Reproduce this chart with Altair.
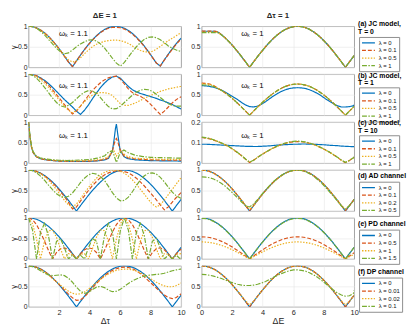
import altair as alt
import pandas as pd

FONT = "Liberation Sans"
COLORS = ["#0072BD", "#D95319", "#EDB120", "#77AC30"]
DASHES = [[1, 0], [4, 2], [1.5, 1.5], [5, 1.5, 1.5, 1.5]]
W, H = 156, 42

# common x grid
G = [0, 0.262, 0.524, 0.785, 1.047, 1.309, 1.571, 1.833, 2.094, 2.356,
     2.618, 2.88, 3.142, 3.403, 3.665, 3.927, 4.189, 4.451, 4.712, 4.974,
     5.236, 5.498, 5.76, 6.021, 6.283, 6.545, 6.807, 7.069, 7.33, 7.592,
     7.854, 8.116, 8.378, 8.639, 8.901, 9.163, 9.425, 9.687, 9.948, 10]
CL_X = [0, 0.1, 0.2, 0.3, 0.5, 0.75, 1, 1.5, 2, 2.5, 3, 3.5, 4, 4.5, 5, 5.25,
        5.5, 5.6, 5.7, 5.76, 5.85, 6.0, 6.25, 6.5, 7, 7.5, 8, 9, 10]

LAB_ABC = ["λ = 0", "λ = 0.1", "λ = 0.5", "λ = 1"]
LAB_D = ["λ = 0", "λ = 0.1", "λ = 0.2", "λ = 0.5"]
LAB_E = ["λ = 0", "λ = 0.5", "λ = 1", "λ = 1.5"]
LAB_F = ["λ = 0", "λ = 0.01", "λ = 0.02", "λ = 0.1"]
ROW_TITLES = ["(a) JC model,\nT = 0", "(b) JC model,\nT = 1", "(c) JC model,\nT = 10",
              "(d) AD channel", "(e) PD channel", "(f) DP channel"]
COL_TITLES = ["ΔE = 1", "Δτ = 1"]
ANN_L = "ωₖ = 1.1"
ANN_R = "ωₖ = 1"

COSH = [1, 0.991, 0.966, 0.924, 0.866, 0.793, 0.707, 0.609, 0.5, 0.383,
        0.259, 0.131, 0, 0.131, 0.259, 0.383, 0.5, 0.609, 0.707, 0.793,
        0.866, 0.924, 0.966, 0.991, 1, 0.991, 0.966, 0.924, 0.866, 0.793,
        0.707, 0.609, 0.5, 0.383, 0.259, 0.131, 0, 0.131, 0.259, 0.284]

# ---- row a
A_L_0 = [1, 0.990, 0.959, 0.908, 0.839, 0.752, 0.649, 0.534, 0.408, 0.271,
         0.130, 0.013, 0.157, 0.297, 0.431, 0.556, 0.670, 0.769, 0.853, 0.919,
         0.966, 0.993, 1.0, 0.985, 0.951, 0.897, 0.825, 0.735, 0.630, 0.514,
         0.383, 0.246, 0.104, 0.03, 0.182, 0.321, 0.454, 0.578, 0.688, 0.709]
A_L_1 = [1, 0.99, 0.958, 0.906, 0.836, 0.749, 0.646, 0.531, 0.405, 0.268,
         0.128, 0.02, 0.155, 0.293, 0.426, 0.55, 0.662, 0.76, 0.842, 0.905,
         0.95, 0.972, 0.975, 0.962, 0.93, 0.877, 0.807, 0.719, 0.617, 0.504,
         0.376, 0.242, 0.104, 0.035, 0.175, 0.31, 0.44, 0.562, 0.67, 0.69]
A_L_2 = [1, 0.99, 0.96, 0.9, 0.83, 0.74, 0.63, 0.52, 0.4, 0.28,
         0.18, 0.13, 0.15, 0.23, 0.33, 0.42, 0.5, 0.56, 0.6, 0.63,
         0.65, 0.66, 0.66, 0.65, 0.62, 0.58, 0.52, 0.46, 0.41, 0.38,
         0.37, 0.39, 0.44, 0.51, 0.58, 0.65, 0.71, 0.77, 0.83, 0.84]
A_L_3 = [1, 0.99, 0.95, 0.88, 0.79, 0.68, 0.57, 0.46, 0.38, 0.33,
         0.35, 0.42, 0.5, 0.57, 0.62, 0.66, 0.67, 0.64, 0.57, 0.47,
         0.35, 0.22, 0.1, 0.03, 0.12, 0.25, 0.38, 0.5, 0.6, 0.68,
         0.73, 0.74, 0.72, 0.67, 0.6, 0.52, 0.46, 0.42, 0.39, 0.38]
A_R_0 = [0.878, 0.878, 0.878, 0.878, 0.866, 0.793, 0.707, 0.609, 0.5, 0.383,
         0.259, 0.131, 0, 0.131, 0.259, 0.383, 0.5, 0.609, 0.707, 0.793,
         0.866, 0.924, 0.966, 0.991, 1, 0.991, 0.966, 0.924, 0.866, 0.793,
         0.707, 0.609, 0.5, 0.383, 0.259, 0.131, 0, 0.131, 0.259, 0.284]
A_R_1 = [0.882, 0.882, 0.882, 0.88, 0.866, 0.793, 0.707, 0.609, 0.5, 0.383,
         0.259, 0.131, 0, 0.131, 0.259, 0.383, 0.5, 0.609, 0.707, 0.793,
         0.866, 0.924, 0.966, 0.991, 1, 0.991, 0.966, 0.924, 0.866, 0.793,
         0.707, 0.609, 0.5, 0.383, 0.259, 0.131, 0, 0.131, 0.259, 0.284]
A_R_2 = [0.86, 0.86, 0.86, 0.86, 0.856, 0.79, 0.706, 0.608, 0.5, 0.383,
         0.259, 0.131, 0, 0.131, 0.259, 0.383, 0.5, 0.609, 0.707, 0.793,
         0.866, 0.924, 0.966, 0.991, 1, 0.991, 0.966, 0.924, 0.866, 0.793,
         0.707, 0.609, 0.5, 0.383, 0.259, 0.131, 0, 0.131, 0.259, 0.284]
A_R_3 = [0.845, 0.845, 0.845, 0.845, 0.845, 0.785, 0.703, 0.607, 0.5, 0.383,
         0.259, 0.131, 0, 0.131, 0.259, 0.383, 0.5, 0.609, 0.707, 0.793,
         0.866, 0.924, 0.966, 0.991, 1, 0.991, 0.966, 0.924, 0.866, 0.793,
         0.707, 0.609, 0.5, 0.383, 0.259, 0.131, 0, 0.131, 0.259, 0.284]

# ---- row b
B_L_0 = [1, 0.99, 0.96, 0.91, 0.85, 0.77, 0.68, 0.58, 0.48, 0.38,
         0.29, 0.2, 0.1, 0.02, 0.12, 0.25, 0.4, 0.54, 0.67, 0.78,
         0.87, 0.93, 0.95, 0.9, 0.8, 0.7, 0.62, 0.57, 0.53, 0.5,
         0.47, 0.44, 0.41, 0.37, 0.34, 0.3, 0.26, 0.21, 0.16, 0.15]
B_L_1 = [1, 0.99, 0.96, 0.9, 0.83, 0.73, 0.62, 0.5, 0.38, 0.26,
         0.14, 0.03, 0.1, 0.22, 0.35, 0.48, 0.6, 0.7, 0.79, 0.86,
         0.91, 0.94, 0.95, 0.88, 0.76, 0.64, 0.55, 0.5, 0.46, 0.4,
         0.32, 0.22, 0.12, 0.02, 0.1, 0.2, 0.3, 0.38, 0.44, 0.45]
B_L_2 = [1, 0.98, 0.94, 0.87, 0.78, 0.68, 0.57, 0.45, 0.33, 0.22,
         0.12, 0.06, 0.12, 0.22, 0.33, 0.42, 0.49, 0.53, 0.55, 0.55,
         0.53, 0.48, 0.38, 0.28, 0.24, 0.24, 0.27, 0.31, 0.36, 0.41,
         0.46, 0.5, 0.54, 0.58, 0.61, 0.64, 0.66, 0.68, 0.7, 0.7]
B_L_3 = [1, 0.97, 0.9, 0.8, 0.68, 0.55, 0.42, 0.31, 0.23, 0.2,
         0.24, 0.31, 0.4, 0.49, 0.56, 0.6, 0.59, 0.53, 0.43, 0.31,
         0.21, 0.15, 0.16, 0.22, 0.31, 0.4, 0.49, 0.56, 0.61, 0.63,
         0.62, 0.58, 0.51, 0.43, 0.35, 0.28, 0.24, 0.22, 0.22, 0.22]
B_R_0 = [0.72, 0.715, 0.7, 0.68, 0.65, 0.61, 0.56, 0.5, 0.44, 0.38,
         0.31, 0.25, 0.21, 0.2, 0.22, 0.27, 0.33, 0.4, 0.47, 0.53,
         0.58, 0.62, 0.65, 0.665, 0.67, 0.665, 0.65, 0.62, 0.58, 0.53,
         0.47, 0.4, 0.34, 0.28, 0.23, 0.2, 0.2, 0.21, 0.23, 0.25]
B_R_1 = [0.78, 0.775, 0.76, 0.72, 0.66, 0.603, 0.537, 0.463, 0.38, 0.291,
         0.197, 0.1, 0, 0.1, 0.197, 0.291, 0.38, 0.463, 0.537, 0.603,
         0.658, 0.702, 0.734, 0.753, 0.76, 0.753, 0.734, 0.702, 0.658, 0.603,
         0.537, 0.463, 0.38, 0.291, 0.197, 0.1, 0, 0.1, 0.197, 0.216]
B_R_2 = [0.77, 0.765, 0.75, 0.715, 0.658, 0.603, 0.537, 0.463, 0.38, 0.291,
         0.197, 0.1, 0, 0.1, 0.197, 0.291, 0.38, 0.463, 0.537, 0.603,
         0.658, 0.702, 0.734, 0.753, 0.76, 0.753, 0.734, 0.702, 0.658, 0.603,
         0.537, 0.463, 0.38, 0.291, 0.197, 0.1, 0, 0.1, 0.197, 0.216]
B_R_3 = [0.74, 0.735, 0.725, 0.7, 0.655, 0.603, 0.537, 0.463, 0.38, 0.291,
         0.197, 0.1, 0, 0.1, 0.197, 0.291, 0.38, 0.463, 0.537, 0.603,
         0.658, 0.702, 0.734, 0.753, 0.76, 0.753, 0.734, 0.702, 0.658, 0.603,
         0.537, 0.463, 0.38, 0.291, 0.197, 0.1, 0, 0.1, 0.197, 0.216]

# ---- row c
C_L_0 = [1, 0.62, 0.38, 0.26, 0.16, 0.11, 0.09, 0.065, 0.05, 0.045, 0.04, 0.04, 0.045, 0.055,
         0.08, 0.12, 0.3, 0.55, 0.85, 0.95, 0.7, 0.32, 0.16, 0.11, 0.08, 0.07, 0.06, 0.055, 0.05]
C_L_1 = [1, 0.62, 0.38, 0.26, 0.16, 0.11, 0.09, 0.065, 0.05, 0.045, 0.045, 0.045, 0.05, 0.06,
         0.09, 0.13, 0.3, 0.45, 0.57, 0.6, 0.52, 0.33, 0.18, 0.13, 0.1, 0.09, 0.08, 0.07, 0.07]
C_L_2 = [1, 0.63, 0.39, 0.27, 0.17, 0.12, 0.1, 0.075, 0.06, 0.055, 0.055, 0.06, 0.065, 0.08,
         0.11, 0.17, 0.3, 0.3, 0.22, 0.17, 0.22, 0.3, 0.22, 0.16, 0.12, 0.11, 0.1, 0.09, 0.09]
C_L_3 = [1, 0.64, 0.4, 0.28, 0.18, 0.13, 0.11, 0.085, 0.07, 0.065, 0.07, 0.08, 0.09, 0.12,
         0.18, 0.27, 0.3, 0.2, 0.08, 0.02, 0.1, 0.25, 0.32, 0.26, 0.19, 0.16, 0.14, 0.13, 0.12]
C_R_0 = [0.092, 0.092, 0.091, 0.09, 0.089, 0.088, 0.087, 0.086, 0.085, 0.084,
         0.083, 0.082, 0.082, 0.081, 0.081, 0.082, 0.083, 0.084, 0.086, 0.088,
         0.089, 0.09, 0.091, 0.092, 0.092, 0.093, 0.093, 0.092, 0.092, 0.091,
         0.09, 0.089, 0.087, 0.086, 0.085, 0.083, 0.082, 0.081, 0.08, 0.08]
C_R_1 = [0.125, 0.122, 0.118, 0.112, 0.105, 0.097, 0.088, 0.077, 0.065, 0.051,
         0.036, 0.019, 0.003, 0.014, 0.028, 0.041, 0.053, 0.064, 0.074, 0.083,
         0.091, 0.097, 0.101, 0.104, 0.105, 0.104, 0.101, 0.097, 0.091, 0.083,
         0.074, 0.064, 0.053, 0.041, 0.028, 0.014, 0.002, 0.013, 0.026, 0.029]
C_R_2 = [0.126, 0.123, 0.119, 0.113, 0.106, 0.098, 0.088, 0.077, 0.065, 0.051,
         0.036, 0.019, 0.004, 0.014, 0.028, 0.041, 0.053, 0.064, 0.074, 0.083,
         0.091, 0.097, 0.102, 0.105, 0.106, 0.105, 0.102, 0.097, 0.091, 0.083,
         0.074, 0.064, 0.053, 0.041, 0.028, 0.014, 0.003, 0.013, 0.026, 0.029]
C_R_3 = [0.127, 0.124, 0.12, 0.114, 0.106, 0.098, 0.089, 0.078, 0.066, 0.052,
         0.037, 0.02, 0.005, 0.014, 0.028, 0.041, 0.053, 0.064, 0.075, 0.084,
         0.092, 0.098, 0.103, 0.106, 0.107, 0.106, 0.103, 0.098, 0.092, 0.084,
         0.075, 0.065, 0.054, 0.042, 0.029, 0.015, 0.004, 0.013, 0.026, 0.03]

# ---- row d
D_L_0 = COSH
D_L_1 = [1, 0.99, 0.965, 0.92, 0.86, 0.78, 0.69, 0.59, 0.47, 0.35,
         0.21, 0.05, 0.1, 0.24, 0.37, 0.5, 0.62, 0.72, 0.81, 0.88,
         0.93, 0.96, 0.98, 0.98, 0.96, 0.93, 0.87, 0.8, 0.71, 0.61,
         0.5, 0.39, 0.27, 0.15, 0.03, 0.1, 0.22, 0.33, 0.43, 0.45]
D_L_2 = [1, 0.99, 0.96, 0.91, 0.84, 0.75, 0.64, 0.52, 0.39, 0.26,
         0.15, 0.1, 0.17, 0.3, 0.44, 0.57, 0.69, 0.8, 0.88, 0.94,
         0.98, 1.0, 0.99, 0.97, 0.92, 0.85, 0.76, 0.65, 0.53, 0.41,
         0.28, 0.17, 0.1, 0.15, 0.27, 0.4, 0.53, 0.66, 0.79, 0.81]
D_L_3 = [1, 0.98, 0.93, 0.85, 0.75, 0.63, 0.52, 0.42, 0.36, 0.33,
         0.36, 0.44, 0.56, 0.69, 0.8, 0.88, 0.92, 0.9, 0.84, 0.75,
         0.6, 0.45, 0.32, 0.25, 0.26, 0.34, 0.47, 0.62, 0.76, 0.86,
         0.92, 0.93, 0.9, 0.82, 0.71, 0.58, 0.46, 0.37, 0.32, 0.31]
D_R_0 = COSH
D_R_1 = [1, 0.991, 0.966, 0.924, 0.866, 0.793, 0.707, 0.609, 0.5, 0.383,
         0.259, 0.131, 0.01, 0.131, 0.259, 0.383, 0.5, 0.609, 0.707, 0.793,
         0.866, 0.924, 0.966, 0.991, 1, 0.991, 0.966, 0.924, 0.866, 0.793,
         0.707, 0.609, 0.5, 0.383, 0.259, 0.131, 0.01, 0.131, 0.259, 0.284]
D_R_2 = [0.995, 0.987, 0.962, 0.92, 0.862, 0.79, 0.705, 0.608, 0.5, 0.385,
         0.263, 0.14, 0.04, 0.13, 0.255, 0.38, 0.497, 0.606, 0.704, 0.79,
         0.862, 0.92, 0.962, 0.987, 0.995, 0.987, 0.962, 0.92, 0.862, 0.79,
         0.705, 0.608, 0.5, 0.385, 0.263, 0.14, 0.04, 0.13, 0.255, 0.28]
D_R_3 = [0.83, 0.825, 0.81, 0.78, 0.73, 0.67, 0.6, 0.51, 0.42, 0.32,
         0.22, 0.13, 0.1, 0.17, 0.28, 0.4, 0.51, 0.62, 0.72, 0.8,
         0.87, 0.93, 0.97, 0.99, 1.0, 0.99, 0.96, 0.91, 0.85, 0.77,
         0.68, 0.58, 0.47, 0.36, 0.24, 0.12, 0.05, 0.13, 0.25, 0.29]

# ---- row e
E_L_0 = COSH
E_L_1 = [1, 0.958, 0.837, 0.653, 0.433, 0.205, 0, 0.158, 0.25, 0.271,
         0.224, 0.126, 0, 0.126, 0.224, 0.271, 0.25, 0.158, 0, 0.205,
         0.433, 0.653, 0.837, 0.958, 1, 0.958, 0.837, 0.653, 0.433, 0.205,
         0, 0.158, 0.25, 0.271, 0.224, 0.126, 0, 0.126, 0.224, 0.238]
E_L_2 = [1, 0.859, 0.483, 0, 0.433, 0.687, 0.707, 0.527, 0.25, 0,
         0.129, 0.113, 0, 0.113, 0.129, 0, 0.25, 0.527, 0.707, 0.687,
         0.433, 0, 0.483, 0.859, 1, 0.859, 0.483, 0, 0.433, 0.687,
         0.707, 0.527, 0.25, 0, 0.129, 0.113, 0, 0.113, 0.129, 0.116]
E_L_3 = [1, 0.701, 0, 0.653, 0.866, 0.561, 0, 0.431, 0.5, 0.271,
         0, 0.092, 0, 0.092, 0, 0.271, 0.5, 0.431, 0, 0.561,
         0.866, 0.653, 0, 0.701, 1, 0.701, 0, 0.653, 0.866, 0.561,
         0, 0.431, 0.5, 0.271, 0, 0.092, 0, 0.092, 0, 0.043]
E_R_0 = COSH
E_R_1 = [0.54, 0.535, 0.522, 0.499, 0.468, 0.428, 0.382, 0.329, 0.27, 0.207,
         0.14, 0.071, 0, 0.071, 0.14, 0.207, 0.27, 0.329, 0.382, 0.428,
         0.468, 0.499, 0.522, 0.535, 0.54, 0.535, 0.522, 0.499, 0.468, 0.428,
         0.382, 0.329, 0.27, 0.207, 0.14, 0.071, 0, 0.071, 0.14, 0.153]
E_R_2 = [0.416, 0.412, 0.402, 0.384, 0.36, 0.33, 0.294, 0.253, 0.208, 0.159,
         0.108, 0.054, 0, 0.054, 0.108, 0.159, 0.208, 0.253, 0.294, 0.33,
         0.36, 0.384, 0.402, 0.412, 0.416, 0.412, 0.402, 0.384, 0.36, 0.33,
         0.294, 0.253, 0.208, 0.159, 0.108, 0.054, 0, 0.054, 0.108, 0.118]
E_R_3 = [0.99, 0.981, 0.956, 0.915, 0.857, 0.785, 0.7, 0.603, 0.495, 0.379,
         0.256, 0.13, 0, 0.13, 0.256, 0.379, 0.495, 0.603, 0.7, 0.785,
         0.857, 0.915, 0.956, 0.981, 0.99, 0.981, 0.956, 0.915, 0.857, 0.785,
         0.7, 0.603, 0.495, 0.379, 0.256, 0.13, 0, 0.13, 0.256, 0.281]

# ---- row f
F_L_0 = COSH
F_L_1 = [1, 0.99, 0.965, 0.92, 0.86, 0.79, 0.7, 0.61, 0.51, 0.41,
         0.31, 0.22, 0.16, 0.17, 0.24, 0.35, 0.46, 0.57, 0.67, 0.76,
         0.83, 0.89, 0.93, 0.96, 0.97, 0.96, 0.93, 0.88, 0.81, 0.73,
         0.64, 0.55, 0.46, 0.37, 0.29, 0.23, 0.2, 0.23, 0.3, 0.32]
F_L_2 = [1, 0.99, 0.96, 0.91, 0.85, 0.78, 0.69, 0.61, 0.53, 0.45,
         0.38, 0.33, 0.31, 0.32, 0.36, 0.43, 0.51, 0.59, 0.67, 0.74,
         0.8, 0.85, 0.89, 0.91, 0.92, 0.92, 0.9, 0.87, 0.83, 0.78,
         0.72, 0.66, 0.6, 0.55, 0.51, 0.49, 0.49, 0.52, 0.57, 0.58]
F_L_3 = [1, 0.98, 0.94, 0.88, 0.82, 0.78, 0.76, 0.77, 0.78, 0.76,
         0.7, 0.6, 0.48, 0.38, 0.33, 0.35, 0.42, 0.48, 0.5, 0.47,
         0.41, 0.37, 0.38, 0.43, 0.5, 0.57, 0.63, 0.68, 0.72, 0.75,
         0.77, 0.78, 0.79, 0.8, 0.82, 0.85, 0.88, 0.9, 0.92, 0.92]
F_R_0 = COSH
F_R_1 = COSH
F_R_2 = [0.995, 0.987, 0.962, 0.92, 0.862, 0.79, 0.705, 0.608, 0.5, 0.385,
         0.265, 0.145, 0.05, 0.14, 0.26, 0.382, 0.498, 0.607, 0.705, 0.79,
         0.862, 0.92, 0.962, 0.987, 0.995, 0.987, 0.962, 0.92, 0.862, 0.79,
         0.705, 0.608, 0.5, 0.385, 0.265, 0.145, 0.05, 0.14, 0.26, 0.285]
F_R_3 = [0.79, 0.785, 0.77, 0.75, 0.72, 0.69, 0.65, 0.61, 0.58, 0.55,
         0.53, 0.52, 0.52, 0.53, 0.55, 0.58, 0.62, 0.67, 0.72, 0.77,
         0.81, 0.85, 0.88, 0.9, 0.9, 0.89, 0.87, 0.83, 0.78, 0.72,
         0.65, 0.57, 0.49, 0.41, 0.34, 0.29, 0.26, 0.27, 0.33, 0.4]


def panel(xs, series, labels, left, bottom, ytitle=False, ylim=(0, 1), yvals=(0, 0.5, 1),
          legend_y=None, row_title=None, title_y=0, title_baseline="top",
          ann=None, top_title=None, ghost_y=None):
    recs = []
    for lab, ys in zip(labels, series):
        for x, y in zip(xs, ys):
            recs.append({"x": x, "y": y, "s": lab})
    df = pd.DataFrame(recs)
    if bottom:
        xaxis = alt.Axis(values=[2, 4, 6, 8, 10] if left else [0, 2, 4, 6, 8, 10],
                         title="Δτ" if left else "ΔE", labelFontSize=7.5, titleFontSize=9,
                         titleFontWeight="normal", labelPadding=2, titlePadding=1,
                         labelFlush=False)
    else:
        xaxis = alt.Axis(values=[2, 4, 6, 8], labels=False, title=None)
    yaxis = alt.Axis(values=list(yvals), format="~g", labelFontSize=7,
                     title="γ" if ytitle else None, titleFontSize=8,
                     titleFontWeight="normal", labelPadding=1.5, titlePadding=0.5)
    X = alt.X("x:Q", scale=alt.Scale(domain=[0, 10], nice=False, zero=False), axis=xaxis)
    Y = alt.Y("y:Q", scale=alt.Scale(domain=list(ylim), nice=False, zero=False), axis=yaxis)
    if legend_y is not None:
        leg = alt.Legend(title=None, orient="none", legendX=W + 5, legendY=legend_y,
                         strokeColor="#8c8c8c", fillColor="white", padding=2,
                         labelFontSize=6, labelFont=FONT, labelColor="#111",
                         symbolType="M-1,0H3.4", symbolSize=36, symbolStrokeWidth=1.3,
                         labelOffset=10, rowPadding=0.8)
    else:
        leg = None
    layers = [alt.Chart(df).mark_line(strokeWidth=1.2, clip=True).encode(
        x=X, y=Y,
        color=alt.Color("s:N", scale=alt.Scale(domain=labels, range=COLORS), legend=leg),
        strokeDash=alt.StrokeDash("s:N", scale=alt.Scale(domain=labels, range=DASHES), legend=leg),
    )]
    if ann is not None:
        adf = pd.DataFrame({"x": [ann[0]], "y": [ann[1]], "t": [ann[2]]})
        layers.append(alt.Chart(adf).mark_text(align="left", baseline="middle", fontSize=8,
                                               color="#000").encode(x=X, y=Y, text="t:N"))
    if row_title is not None:
        tdf = pd.DataFrame({"t": [row_title]})
        layers.append(alt.Chart(tdf).mark_text(align="left", baseline=title_baseline, fontSize=7,
                                               fontWeight="bold", lineBreak="\n", lineHeight=8,
                                               color="#000").encode(
            x=alt.value(W + 4), y=alt.value(title_y), text="t:N"))
    if ghost_y is not None:
        # invisible spacer so both top panels have the same upper bound
        gdf = pd.DataFrame({"t": ["(a)"]})
        layers.append(alt.Chart(gdf).mark_text(align="left", baseline="top", fontSize=7,
                                               opacity=0).encode(
            x=alt.value(2), y=alt.value(ghost_y), text="t:N"))
    ch = alt.layer(*layers).properties(width=W, height=H)
    if top_title is not None:
        ch = ch.properties(title=alt.TitleParams(top_title, fontSize=8, fontWeight="bold",
                                                 offset=0, frame="group", anchor="middle"))
    return ch


rows_spec = [
    (G, [A_L_0, A_L_1, A_L_2, A_L_3], G, [A_R_0, A_R_1, A_R_2, A_R_3], LAB_ABC, True,
     (0, 1), (0, 0.5, 1), 11, -6, "top", (2.0, 0.81), (2.6, 0.81)),
    (G, [B_L_0, B_L_1, B_L_2, B_L_3], G, [B_R_0, B_R_1, B_R_2, B_R_3], LAB_ABC, False,
     (0, 1), (0, 0.5, 1), 13.5, -2.5, "top", (2.0, 0.72), (2.6, 0.72)),
    (CL_X, [C_L_0, C_L_1, C_L_2, C_L_3], G, [C_R_0, C_R_1, C_R_2, C_R_3], LAB_ABC, False,
     (0, 0.2), (0, 0.1, 0.2), 13.5, -2.5, "top", (2.0, 0.65), (2.6, 0.13)),
    (G, [D_L_0, D_L_1, D_L_2, D_L_3], G, [D_R_0, D_R_1, D_R_2, D_R_3], LAB_D, True,
     (0, 1), (0, 0.5, 1), 12, 6, "middle", None, None),
    (G, [E_L_0, E_L_1, E_L_2, E_L_3], G, [E_R_0, E_R_1, E_R_2, E_R_3], LAB_E, True,
     (0, 1), (0, 0.5, 1), 12, 6, "middle", None, None),
    (G, [F_L_0, F_L_1, F_L_2, F_L_3], G, [F_R_0, F_R_1, F_R_2, F_R_3], LAB_F, True,
     (0, 1), (0, 0.5, 1), 12, 6, "middle", None, None),
]

panels = []
for i, (xl, sl, xr, sr, labs, yt, rylim, ryvals, ly, ty, tb, annl, annr) in enumerate(rows_spec):
    last = i == len(rows_spec) - 1
    panels.append(panel(xl, sl, labs, True, last, ytitle=yt,
                        ann=(annl[0], annl[1], ANN_L) if annl else None,
                        top_title=COL_TITLES[0] if i == 0 else None,
                        ghost_y=ty if i == 0 else None))
    panels.append(panel(xr, sr, labs, False, last, ylim=rylim, yvals=ryvals,
                        legend_y=ly, row_title=ROW_TITLES[i], title_y=ty, title_baseline=tb,
                        ann=(annr[0], annr[1], ANN_R) if annr else None,
                        top_title=COL_TITLES[1] if i == 0 else None))

chart = alt.concat(*panels, columns=2, bounds="flush",
                   spacing={"row": 7, "column": 21}).resolve_scale(
    color="independent", strokeDash="independent"
).properties(
    padding={"left": 0, "top": 0, "right": 0, "bottom": 0}
).configure(font=FONT).configure_view(
    stroke="#8c8c8c", strokeWidth=0.8
).configure_axis(
    labelFont=FONT, titleFont=FONT, gridColor="#e6e6e6", gridWidth=0.6,
    domain=False, ticks=False, labelColor="#262626", titleColor="#262626"
).configure_title(font=FONT, color="#262626")

chart.save("out.html", embed_options={"renderer": "svg", "actions": False})
